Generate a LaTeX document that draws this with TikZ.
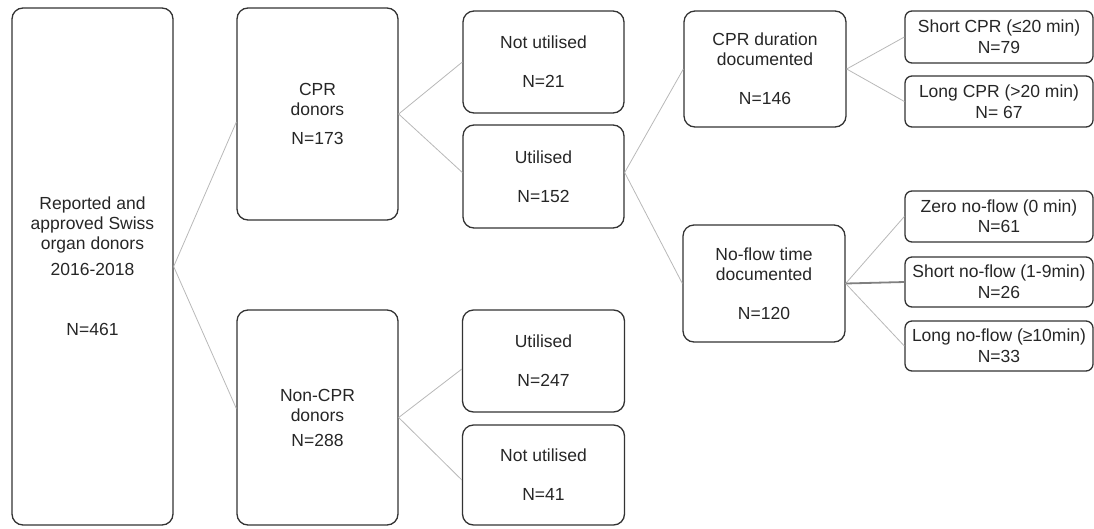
\documentclass[tikz,border=0pt]{standalone}
\usepackage{fontspec}
\setmainfont{Liberation Sans}
\usetikzlibrary{calc}

\tikzstyle{box} = [rectangle, rounded corners=11pt, draw=black!80, line width=1.3pt, text=black!85, align=center, inner sep=1pt, font=\fontsize{17.5}{20}\selectfont]
\tikzstyle{sbox} = [box, rounded corners=7pt, minimum width=188pt]
\tikzstyle{link} = [draw=black!28, line width=0.8pt]
\tikzstyle{mainlink} = [draw=black!50, line width=1.8pt]

\begin{document}
\begin{tikzpicture}[x=1pt, y=-1pt]
        \useasboundingbox (0,0) rectangle (1094,528);
        % first and second level
        \node (report) [box, minimum width=161pt, minimum height=517pt] at (92.5,266.5) {Reported and\\approved Swiss\\organ donors\\[6pt]2016-2018\\[40pt]N=461};
        \node (cpr) [box, minimum width=161pt, minimum height=212pt] at (317.5,114) {CPR\\donors\\[9pt]N=173};
        \node (noncpr) [box, minimum width=161pt, minimum height=215pt] at (317.5,417.5) {Non-CPR\\donors\\[5pt]N=288};
        % utilisation
        \node (notutilA) [box, minimum width=161pt, minimum height=102pt] at (543.5,62) {Not utilised\\[19pt]N=21};
        \node (utilA) [box, minimum width=161pt, minimum height=103pt] at (543.5,176.5) {Utilised\\[19pt]N=152};
        \node (utilB) [box, minimum width=162pt, minimum height=102pt] at (543.5,361) {Utilised\\[19pt]N=247};
        \node (notutilB) [box, minimum width=162pt, minimum height=100pt] at (543.5,475) {Not utilised\\[19pt]N=41};
        % documented times
        \node (cprdur) [box, minimum width=162pt, minimum height=116pt] at (765,69) {CPR duration\\documented\\[19pt]N=146};
        \node (noflow) [box, minimum width=162pt, minimum height=117pt] at (764,283.5) {No-flow time\\documented\\[19pt]N=120};
        % subgroups
        \node (shortcpr) [sbox, minimum height=52pt] at (999,37) {Short CPR (≤20 min)\\[1pt]N=79};
        \node (longcpr) [sbox, minimum height=51pt] at (999,101.5) {Long CPR (>20 min)\\[1pt]N= 67};
        \node (zeronf) [sbox, minimum height=51pt] at (999,216.5) {Zero no-flow (0 min)\\N=61};
        \node (shortnf) [sbox, minimum height=50pt] at (999,282) {Short no-flow (1-9min)\\[1pt]N=26};
        \node (longnf) [sbox, minimum height=50pt] at (999,346) {Long no-flow (≥10min)\\[1pt]N=33};

        \draw [link] (report.east) -- ($(cpr.west)+(0,8)$);
        \draw [link] (report.east) -- ($(noncpr.west)+(0,-9)$);
        \draw [link] (cpr.east) -- (notutilA.west);
        \draw [link] (cpr.east) -- ($(utilA.west)+(0,-4)$);
        \draw [link] (noncpr.east) -- ($(utilB.west)+(0,8)$);
        \draw [link] (noncpr.east) -- ($(notutilB.west)+(0,5)$);
        \draw [link] ($(utilA.east)+(0,-4)$) -- (cprdur.west);
        \draw [link] ($(utilA.east)+(0,-4)$) -- (noflow.west);
        \draw [link] (cprdur.east) -- (shortcpr.west);
        \draw [link] (cprdur.east) -- (longcpr.west);
        \draw [link] (noflow.east) -- (zeronf.west);
        \draw [mainlink] (noflow.east) -- (shortnf.west);
        \draw [link] (noflow.east) -- (longnf.west);
    \end{tikzpicture}
\end{document}
